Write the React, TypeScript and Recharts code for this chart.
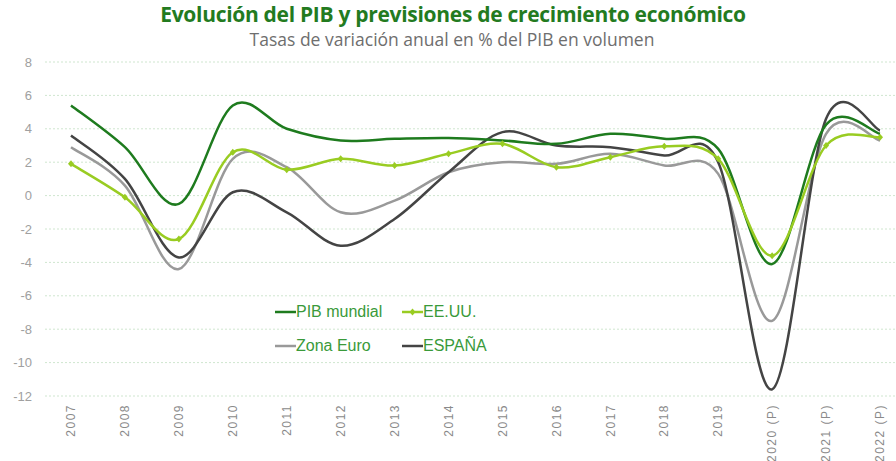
import { LineChart, Line, XAxis, YAxis, CartesianGrid } from 'recharts';

const years = ['2007', '2008', '2009', '2010', '2011', '2012', '2013', '2014', '2015', '2016', '2017', '2018', '2019', '2020 (P)', '2021 (P)', '2022 (P)'];
const pibMundial = [5.4, 2.9, -0.5, 5.4, 4.0, 3.3, 3.4, 3.45, 3.3, 3.1, 3.7, 3.4, 2.8, -4.1, 4.25, 3.7];
const eeuu = [1.9, -0.1, -2.6, 2.6, 1.55, 2.2, 1.8, 2.5, 3.1, 1.7, 2.3, 2.95, 2.2, -3.6, 3.0, 3.5];
const zonaEuro = [2.9, 0.6, -4.4, 2.2, 1.7, -1.0, -0.3, 1.4, 2.0, 1.9, 2.5, 1.8, 1.3, -7.5, 3.7, 3.3];
const espana = [3.6, 1.0, -3.7, 0.2, -1.0, -3.0, -1.4, 1.4, 3.8, 3.0, 2.9, 2.4, 2.0, -11.6, 4.6, 3.9];
const yTicks = [-12, -10, -8, -6, -4, -2, 0, 2, 4, 6, 8];

const data = years.map((year, i) => ({
  year,
  pibMundial: pibMundial[i],
  eeuu: eeuu[i],
  zonaEuro: zonaEuro[i],
  espana: espana[i],
}));

const series = [
  { key: 'pibMundial', name: 'PIB mundial', color: '#1e7b1e' },
  { key: 'eeuu', name: 'EE.UU.', color: '#99cc22' },
  { key: 'zonaEuro', name: 'Zona Euro', color: '#999999' },
  { key: 'espana', name: 'ESPAÑA', color: '#444444' },
];

// Catmull-Rom style smoothing, close to the spreadsheet "smoothed line"
function smooth(context: any) {
  let pts: number[][] = [];
  return {
    areaStart() {},
    areaEnd() {},
    lineStart() {
      pts = [];
    },
    lineEnd() {
      const n = pts.length;
      if (!n) return;
      context.moveTo(pts[0][0], pts[0][1]);
      for (let i = 0; i < n - 1; i++) {
        const p0 = pts[i - 1] || pts[i];
        const p1 = pts[i];
        const p2 = pts[i + 1];
        const p3 = pts[i + 2] || p2;
        context.bezierCurveTo(
          p1[0] + (p2[0] - p0[0]) / 6,
          p1[1] + (p2[1] - p0[1]) / 6,
          p2[0] - (p3[0] - p1[0]) / 6,
          p2[1] - (p3[1] - p1[1]) / 6,
          p2[0],
          p2[1]
        );
      }
    },
    point(x: number, y: number) {
      pts.push([+x, +y]);
    },
  };
}

function YearTick({ x, y, payload }: any) {
  return (
    <text
      x={x}
      y={y}
      dy="0.35em"
      transform={`rotate(-90, ${x}, ${y})`}
      textAnchor="end"
      fontSize={12}
      letterSpacing={1.5}
      fill="#8a8a8a"
      fontFamily="Liberation Sans, Arial, sans-serif"
    >
      {payload.value}
    </text>
  );
}

function Diamond({ cx, cy }: any) {
  if (cx == null || cy == null) return null;
  return <path d={`M${cx},${cy - 3.5}L${cx + 3},${cy}L${cx},${cy + 3.5}L${cx - 3},${cy}Z`} fill="#99cc22" />;
}

export default function App() {
  return (
    <div style={{ position: 'absolute', left: 0, top: 0, width: 896, height: 461, background: '#fff', overflow: 'hidden' }}>
      <div
        style={{
          position: 'absolute',
          top: 2,
          left: 0,
          width: 906,
          textAlign: 'center',
          fontFamily: 'Open Sans, sans-serif',
          fontWeight: 700,
          fontSize: 21,
          color: '#237b1f',
          lineHeight: '24px',
          letterSpacing: -0.3,
        }}
      >
        Evolución del PIB y previsiones de crecimiento económico
      </div>
      <div
        style={{
          position: 'absolute',
          top: 30,
          left: 0,
          width: 904,
          textAlign: 'center',
          fontFamily: 'Open Sans, sans-serif',
          fontSize: 17.5,
          color: '#6e6e6e',
          lineHeight: '18px',
        }}
      >
        Tasas de variación anual en % del PIB en volumen
      </div>
      <LineChart width={896} height={461} data={data} margin={{ top: 62, right: 0, bottom: 0, left: 0 }}>
        <CartesianGrid vertical={false} stroke="#cfe6cf" strokeDasharray="2 2" />
        <XAxis
          dataKey="year"
          interval={0}
          axisLine={false}
          tickLine={false}
          height={65}
          padding={{ left: 26, right: 16 }}
          tick={<YearTick />}
        />
        <YAxis
          domain={[-12, 8]}
          ticks={yTicks}
          width={45}
          axisLine={false}
          tickLine={false}
          tickMargin={7}
          tick={{ fontSize: 13, fill: '#a0a0a0', fontFamily: 'Liberation Sans, Arial, sans-serif' }}
        />
        <Line dataKey="zonaEuro" type={smooth as any} stroke="#999999" strokeWidth={2.5} dot={false} isAnimationActive={false} />
        <Line dataKey="espana" type={smooth as any} stroke="#444444" strokeWidth={2.5} dot={false} isAnimationActive={false} />
        <Line dataKey="pibMundial" type={smooth as any} stroke="#1e7b1e" strokeWidth={2.5} dot={false} isAnimationActive={false} />
        <Line dataKey="eeuu" type={smooth as any} stroke="#99cc22" strokeWidth={2.5} dot={<Diamond />} isAnimationActive={false} />
      </LineChart>
      <div
        style={{
          position: 'absolute',
          left: 275,
          top: 302,
          display: 'grid',
          gridTemplateColumns: '127px 127px',
          rowGap: 14,
          fontFamily: 'Liberation Sans, Arial, sans-serif',
          fontSize: 16,
          color: '#3a9a3a',
        }}
      >
        {series.map((s) => (
          <div key={s.key} style={{ display: 'flex', alignItems: 'center', height: 20 }}>
            <svg width={21} height={10}>
              <line x1={0} y1={5} x2={21} y2={5} stroke={s.color} strokeWidth={2.5} />
              {s.key === 'eeuu' && <path d="M10.5,1.5L13.5,5L10.5,8.5L7.5,5Z" fill={s.color} />}
            </svg>
            <span>{s.name}</span>
          </div>
        ))}
      </div>
    </div>
  );
}
